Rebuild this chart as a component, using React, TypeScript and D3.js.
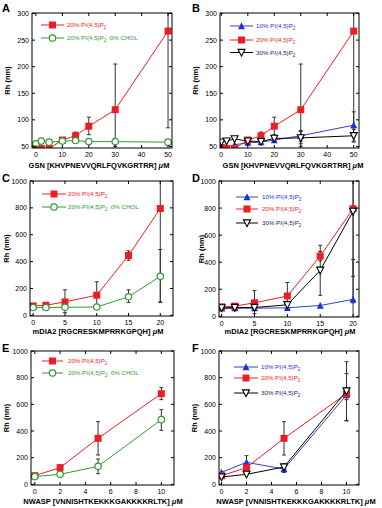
import * as d3 from "d3";
import React from "react";

// ---- data ----
const gsnConc = [0, 2, 5, 10, 15, 20, 30, 50];
const gsnRed20 = [48, 46, 46, 62, 70, 88, 119, 267];
const gsnRed20Err = [null, null, null, null, [64, 77], [72, 105], [50, 205], [85, 320]];
const gsnGreen20NoChol = [55, 60, 58, 60, 61, 59, 59, 58];
const gsnGreenErr = [null, [56, 63], null, null, null, null, null, null];
const gsnBlue10 = [52, 49, 53, 57, 58, 62, 70, 90];
const gsnBlueErr = [null, null, null, [54, 62], null, [58, 66], [60, 80], [60, 115]];
const gsnBlack30 = [58, 60, 64, 60, 59, 65, 66, 70];
const gsnBlackErr = [null, null, null, null, null, null, [55, 78], [58, 82]];

const diaConc = [0, 2, 5, 10, 15, 20];
const diaRed20 = [70, 75, 100, 150, 445, 795];
const diaRed20Err = [[50, 85], [60, 90], [20, 190], [60, 250], [410, 480], [100, 1050]];
const diaGreen20NoChol = [58, 58, 60, 62, 138, 290];
const diaGreenErr = [null, null, null, null, [95, 190], [95, 490]];
const diaBlue10 = [58, 60, 60, 63, 80, 125];
const diaBlueErr = [null, null, null, null, null, [-20, 420]];
const diaBlack30 = [62, 65, 65, 85, 340, 775];
const diaBlackErr = [null, null, null, [60, 110], [155, 525], [295, 1050]];

const nwaspConc = [0, 2, 5, 10];
const nwRed20 = [65, 125, 345, 680];
const nwRed20Err = [null, [105, 145], [220, 470], [635, 725]];
const nwGreen20NoChol = [58, 75, 135, 485];
const nwGreenErr = [null, null, [80, 190], [405, 560]];
const nwBlue10 = [90, 165, 115, 670];
const nwBlueErr = [null, [120, 215], [90, 135], [480, 830]];
const nwBlack30 = [55, 75, 130, 700];
const nwBlackErr = [null, null, [95, 155], [475, 920]];

const gsnTicksX = [0, 10, 20, 30, 40, 50];
const gsnTicksY = [50, 100, 150, 200, 250, 300];
const diaTicksX = [0, 5, 10, 15, 20];
const nwTicksX = [0, 2, 4, 6, 8, 10];
const bigTicksY = [0, 200, 400, 600, 800, 1000];

const RED = "#ee1c24";
const GREEN = "#2e9a35";
const BLUE = "#1f2fe0";
const BLUE_LINE = "#3344bb";
const NAVY = "#222266";

type Series = {
  name: string;
  y: number[];
  err: (number[] | null)[];
  marker: "square" | "circle" | "up" | "down";
  color: string;
  line: string;
  text: string;
};

const red = (y, err): Series => ({ name: "20%", y, err, marker: "square", color: RED, line: RED, text: RED });
const green = (y, err): Series => ({ name: "chol", y, err, marker: "circle", color: GREEN, line: GREEN, text: GREEN });
const blue = (y, err): Series => ({ name: "10%", y, err, marker: "up", color: BLUE, line: BLUE_LINE, text: BLUE });
const black = (y, err): Series => ({ name: "30%", y, err, marker: "down", color: "#000", line: "#000", text: NAVY });

const Marker = ({ type, x, y, color, s = 7 }) => {
  if (type === "square") return <rect x={x - s / 2} y={y - s / 2} width={s} height={s} fill={color} />;
  if (type === "circle") return <circle cx={x} cy={y} r={s / 2 - 0.3} fill="#fff" stroke={color} strokeWidth={1.2} />;
  if (type === "up") {
    const h = s * 0.9;
    return <path d={`M${x},${y - h / 2 - 0.5}L${x + s / 2},${y + h / 2}L${x - s / 2},${y + h / 2}Z`} fill={color} />;
  }
  const h = s * 0.9;
  return (
    <path d={`M${x},${y + h / 2 + 0.5}L${x + s / 2},${y - h / 2}L${x - s / 2},${y - h / 2}Z`} fill="#fff" stroke={color} strokeWidth={1.1} />
  );
};

const LegendLabel = ({ name, x, y, color }) => {
  const fs = 6.2;
  if (name === "chol")
    return (
      <text x={x} y={y} fontSize={fs} fill={color} fontFamily="Liberation Sans, Arial, sans-serif">
        20% PI(4,5)P<tspan dy={1.8} fontSize={4.5}>2</tspan>
        <tspan dy={-1.8}>, 0% CHOL</tspan>
      </text>
    );
  return (
    <text x={x} y={y} fontSize={fs} fill={color} fontFamily="Liberation Sans, Arial, sans-serif">
      {name} PI(4,5)P<tspan dy={1.8} fontSize={4.5}>2</tspan>
    </text>
  );
};

const Panel = ({ id, letter, box, xDomain, yDomain, xTicks, yTicks, x, series, legend, xLabel, xLabelPos, yLabelX }) => {
  const [x0, y0, x1, y1] = box;
  const xs = d3.scaleLinear().domain(xDomain).range([x0, x1]);
  const ys = d3.scaleLinear().domain(yDomain).range([y1, y0]);
  const line = d3
    .line<number>()
    .x((d, i) => xs(x[i]))
    .y((d) => ys(d));
  const font = "Liberation Sans, Arial, sans-serif";
  return (
    <g>
      <defs>
        <clipPath id={`clip-${id}`}>
          <rect x={x0} y={y0} width={x1 - x0} height={y1 - y0} />
        </clipPath>
      </defs>
      <text x={letter[1]} y={letter[2]} fontSize={11} fontWeight="bold" fontFamily={font}>
        {letter[0]}
      </text>
      <g clipPath={`url(#clip-${id})`}>
        {series.map((s, si) =>
          s.err.map((e, i) =>
            e ? (
              <g key={`e${si}-${i}`} stroke="#333" strokeWidth={1}>
                <line x1={xs(x[i])} x2={xs(x[i])} y1={ys(e[0])} y2={ys(e[1])} />
                <line x1={xs(x[i]) - 2} x2={xs(x[i]) + 2} y1={ys(e[0])} y2={ys(e[0])} />
                <line x1={xs(x[i]) - 2} x2={xs(x[i]) + 2} y1={ys(e[1])} y2={ys(e[1])} />
              </g>
            ) : null
          )
        )}
        {series.map((s, si) => (
          <g key={`s${si}`}>
            <path d={line(s.y) || ""} fill="none" stroke={s.line} strokeWidth={1} />
            {s.y.map((v, i) => (
              <Marker key={i} type={s.marker} x={xs(x[i])} y={ys(v)} color={s.color} />
            ))}
          </g>
        ))}
      </g>
      {/* frame */}
      <rect x={x0} y={y0} width={x1 - x0} height={y1 - y0} fill="none" stroke="#000" strokeWidth={1} />
      {/* ticks, inward on all sides */}
      {xTicks.map((t) => (
        <g key={`xt${t}`}>
          <line x1={xs(t)} x2={xs(t)} y1={y1} y2={y1 - 3} stroke="#000" />
          <line x1={xs(t)} x2={xs(t)} y1={y0} y2={y0 + 3} stroke="#000" />
          <text x={xs(t)} y={y1 + 8.5} fontSize={7} textAnchor="middle" fontFamily={font}>
            {t}
          </text>
        </g>
      ))}
      {yTicks.map((t) => (
        <g key={`yt${t}`}>
          <line x1={x0} x2={x0 + 3} y1={ys(t)} y2={ys(t)} stroke="#000" />
          <line x1={x1} x2={x1 - 3} y1={ys(t)} y2={ys(t)} stroke="#000" />
          <text x={x0 - 3} y={ys(t) + 2.5} fontSize={7} textAnchor="end" fontFamily={font}>
            {t}
          </text>
        </g>
      ))}
      {/* legend */}
      {legend.rows.map((r, i) => {
        const s = series.find((q) => q.name === r);
        const ly = legend.y[i];
        return (
          <g key={`lg${i}`}>
            <line x1={legend.x0} x2={legend.x1} y1={ly} y2={ly} stroke={s.line} strokeWidth={1} />
            <Marker type={s.marker} x={(legend.x0 + legend.x1) / 2} y={ly} color={s.color} />
            <LegendLabel name={r} x={legend.tx} y={ly + 2.2} color={s.text} />
          </g>
        );
      })}
      <text
        transform={`translate(${yLabelX},${(y0 + y1) / 2}) rotate(-90)`}
        textAnchor="middle"
        fontSize={7.5}
        fontWeight="bold"
        fontFamily={font}
      >
        Rh (nm)
      </text>
      <text x={xLabelPos[0]} y={xLabelPos[1]} textAnchor="middle" fontSize={7.5} fontWeight="bold" fontFamily={font}>
        {xLabel} <tspan fontStyle="italic">μ</tspan>M
      </text>
    </g>
  );
};

const App = () => {
  return (
    <div style={{ position: "absolute", left: 0, top: 0 }}>
      <svg width={382} height={508} style={{ display: "block", background: "#fff" }}>
        <Panel
          id="A"
          letter={["A", 2, 12]}
          box={[32, 13, 172, 148]}
          xDomain={[-1.5, 51.5]}
          yDomain={[47, 301]}
          xTicks={gsnTicksX}
          yTicks={gsnTicksY}
          x={gsnConc}
          series={[red(gsnRed20, gsnRed20Err), green(gsnGreen20NoChol, gsnGreenErr)]}
          legend={{ rows: ["20%", "chol"], x0: 41, x1: 64, tx: 67, y: [25, 38] }}
          xLabel="GSN [KHVPNEVVQRLFQVKGRTRR]"
          xLabelPos={[99, 168]}
          yLabelX={10}
        />
        <Panel
          id="B"
          letter={["B", 192, 12]}
          box={[220, 13, 359, 148]}
          xDomain={[-0.5, 52]}
          yDomain={[47, 301]}
          xTicks={gsnTicksX}
          yTicks={gsnTicksY}
          x={gsnConc}
          series={[blue(gsnBlue10, gsnBlueErr), red(gsnRed20, gsnRed20Err), black(gsnBlack30, gsnBlackErr)]}
          legend={{ rows: ["10%", "20%", "30%"], x0: 230, x1: 253, tx: 256, y: [26, 40, 52.5] }}
          xLabel="GSN [KHVPNEVVQRLFQVKGRTRR]"
          xLabelPos={[293, 168]}
          yLabelX={198}
        />
        <Panel
          id="C"
          letter={["C", 2, 182]}
          box={[30, 181, 173, 316]}
          xDomain={[-0.5, 22]}
          yDomain={[-5, 1000]}
          xTicks={diaTicksX}
          yTicks={bigTicksY}
          x={diaConc}
          series={[red(diaRed20, diaRed20Err), green(diaGreen20NoChol, diaGreenErr)]}
          legend={{ rows: ["20%", "chol"], x0: 42, x1: 66, tx: 68, y: [194, 207] }}
          xLabel="mDIA2 [RGCRESKMPRRKGPQH]"
          xLabelPos={[98, 334]}
          yLabelX={9}
        />
        <Panel
          id="D"
          letter={["D", 192, 182]}
          box={[219, 181, 359, 317]}
          xDomain={[-0.4, 20.9]}
          yDomain={[-5, 1000]}
          xTicks={diaTicksX}
          yTicks={bigTicksY}
          x={diaConc}
          series={[blue(diaBlue10, diaBlueErr), red(diaRed20, diaRed20Err), black(diaBlack30, diaBlackErr)]}
          legend={{ rows: ["10%", "20%", "30%"], x0: 236, x1: 258, tx: 262, y: [197, 209, 223] }}
          xLabel="mDIA2 [RGCRESKMPRRKGPQH]"
          xLabelPos={[290, 334]}
          yLabelX={204}
        />
        <Panel
          id="E"
          letter={["E", 2, 352]}
          box={[31, 351, 174, 485]}
          xDomain={[-0.3, 11]}
          yDomain={[-5, 1000]}
          xTicks={nwTicksX}
          yTicks={bigTicksY}
          x={nwaspConc}
          series={[red(nwRed20, nwRed20Err), green(nwGreen20NoChol, nwGreenErr)]}
          legend={{ rows: ["20%", "chol"], x0: 42, x1: 63, tx: 68, y: [361, 373] }}
          xLabel="NWASP [VNNISHTKEKKKGAKKKKRLTK]"
          xLabelPos={[103, 504]}
          yLabelX={9}
        />
        <Panel
          id="F"
          letter={["F", 192, 352]}
          box={[219, 351, 359, 485]}
          xDomain={[-0.2, 11]}
          yDomain={[-5, 1000]}
          xTicks={nwTicksX}
          yTicks={bigTicksY}
          x={nwaspConc}
          series={[blue(nwBlue10, nwBlueErr), red(nwRed20, nwRed20Err), black(nwBlack30, nwBlackErr)]}
          legend={{ rows: ["10%", "20%", "30%"], x0: 234, x1: 258, tx: 261, y: [367, 378, 393] }}
          xLabel="NWASP [VNNISHTKEKKKGAKKKKRLTK]"
          xLabelPos={[296, 504]}
          yLabelX={197}
        />
      </svg>
    </div>
  );
};

export default App;
